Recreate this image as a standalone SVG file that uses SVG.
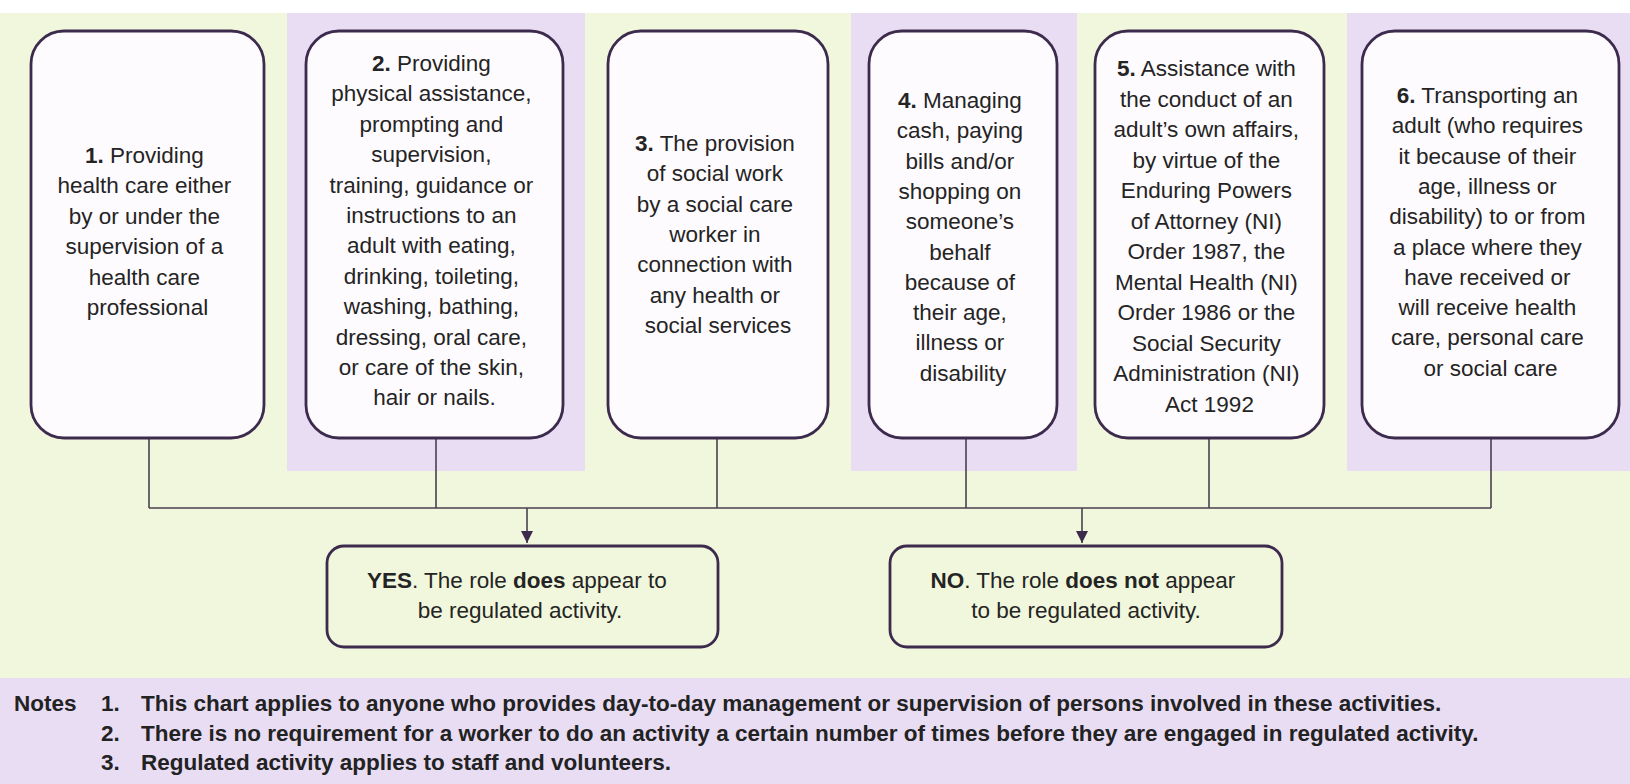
<svg xmlns="http://www.w3.org/2000/svg" width="1630" height="784" viewBox="0 0 1630 784">
<style>
.bg{fill:#f1f7dc}
.band{fill:#e9ddf4}
.node{fill:#fefbfe;stroke:#3d2b4e;stroke-width:2.8}
.res{fill:none;stroke:#3d2b4e;stroke-width:2.8}
.t{font-family:"Liberation Sans",Arial,sans-serif;font-size:22.5px;fill:#242424;text-anchor:middle}
.b{font-weight:bold}
.note{font-family:"Liberation Sans",Arial,sans-serif;font-size:22.5px;font-weight:bold;fill:#222}
.conn{fill:none;stroke:#4a4050;stroke-width:1.6}
</style>
<defs>
<marker id="arr" markerUnits="userSpaceOnUse" markerWidth="12" markerHeight="12" refX="12" refY="6" orient="auto">
<path d="M0,0 L12,6 L0,12 z" fill="#3d2b4e"/>
</marker>
</defs>
<rect x="0" y="0" width="1630" height="784" fill="#ffffff"/>
<rect class="bg" x="0" y="13" width="1630" height="665"/>
<rect class="band" x="287" y="13" width="298" height="458"/>
<rect class="band" x="851" y="13" width="226" height="458"/>
<rect class="band" x="1347" y="13" width="283" height="458"/>
<rect class="band" x="0" y="678" width="1630" height="106"/>

<g id="connectors">
<path class="conn" d="M149,438 V508 M436,438 V508 M717,438 V508 M966,438 V508 M1209,438 V508 M1491,438 V508 M149,508 H1491"/>
<line class="conn" x1="527" y1="508" x2="527" y2="543" marker-end="url(#arr)"/>
<line class="conn" x1="1082" y1="508" x2="1082" y2="543" marker-end="url(#arr)"/>
</g>

<g id="node1">
<rect class="node" x="31" y="31" width="233" height="407" rx="33"/>
<text class="t">
<tspan x="147.5" y="163"><tspan class="b">1.</tspan> Providing</tspan>
<tspan x="147.5" y="193">health care either</tspan>
<tspan x="147.5" y="224">by or under the</tspan>
<tspan x="147.5" y="254">supervision of a</tspan>
<tspan x="147.5" y="285">health care</tspan>
<tspan x="147.5" y="315">professional</tspan>
</text>
</g>

<g id="node2">
<rect class="node" x="306" y="31" width="257" height="407" rx="33"/>
<text class="t">
<tspan x="434.5" y="71"><tspan class="b">2.</tspan> Providing</tspan>
<tspan x="434.5" y="101">physical assistance,</tspan>
<tspan x="434.5" y="132">prompting and</tspan>
<tspan x="434.5" y="162">supervision,</tspan>
<tspan x="434.5" y="193">training, guidance or</tspan>
<tspan x="434.5" y="223">instructions to an</tspan>
<tspan x="434.5" y="253">adult with eating,</tspan>
<tspan x="434.5" y="284">drinking, toileting,</tspan>
<tspan x="434.5" y="314">washing, bathing,</tspan>
<tspan x="434.5" y="345">dressing, oral care,</tspan>
<tspan x="434.5" y="375">or care of the skin,</tspan>
<tspan x="434.5" y="405">hair or nails.</tspan>
</text>
</g>

<g id="node3">
<rect class="node" x="608" y="31" width="220" height="407" rx="33"/>
<text class="t">
<tspan x="718" y="151"><tspan class="b">3.</tspan> The provision</tspan>
<tspan x="718" y="181">of social work</tspan>
<tspan x="718" y="212">by a social care</tspan>
<tspan x="718" y="242">worker in</tspan>
<tspan x="718" y="272">connection with</tspan>
<tspan x="718" y="303">any health or</tspan>
<tspan x="718" y="333">social services</tspan>
</text>
</g>

<g id="node4">
<rect class="node" x="869" y="31" width="188" height="407" rx="33"/>
<text class="t">
<tspan x="963" y="108"><tspan class="b">4.</tspan> Managing</tspan>
<tspan x="963" y="138">cash, paying</tspan>
<tspan x="963" y="169">bills and/or</tspan>
<tspan x="963" y="199">shopping on</tspan>
<tspan x="963" y="229">someone’s</tspan>
<tspan x="963" y="260">behalf</tspan>
<tspan x="963" y="290">because of</tspan>
<tspan x="963" y="320">their age,</tspan>
<tspan x="963" y="350">illness or</tspan>
<tspan x="963" y="381">disability</tspan>
</text>
</g>

<g id="node5">
<rect class="node" x="1095" y="31" width="229" height="407" rx="33"/>
<text class="t">
<tspan x="1209.5" y="76"><tspan class="b">5.</tspan> Assistance with</tspan>
<tspan x="1209.5" y="107">the conduct of an</tspan>
<tspan x="1209.5" y="137">adult’s own affairs,</tspan>
<tspan x="1209.5" y="168">by virtue of the</tspan>
<tspan x="1209.5" y="198">Enduring Powers</tspan>
<tspan x="1209.5" y="229">of Attorney (NI)</tspan>
<tspan x="1209.5" y="259">Order 1987, the</tspan>
<tspan x="1209.5" y="290">Mental Health (NI)</tspan>
<tspan x="1209.5" y="320">Order 1986 or the</tspan>
<tspan x="1209.5" y="351">Social Security</tspan>
<tspan x="1209.5" y="381">Administration (NI)</tspan>
<tspan x="1209.5" y="412">Act 1992</tspan>
</text>
</g>

<g id="node6">
<rect class="node" x="1362" y="31" width="257" height="407" rx="33"/>
<text class="t">
<tspan x="1490.5" y="103"><tspan class="b">6.</tspan> Transporting an</tspan>
<tspan x="1490.5" y="133">adult (who requires</tspan>
<tspan x="1490.5" y="164">it because of their</tspan>
<tspan x="1490.5" y="194">age, illness or</tspan>
<tspan x="1490.5" y="224">disability) to or from</tspan>
<tspan x="1490.5" y="255">a place where they</tspan>
<tspan x="1490.5" y="285">have received or</tspan>
<tspan x="1490.5" y="315">will receive health</tspan>
<tspan x="1490.5" y="345">care, personal care</tspan>
<tspan x="1490.5" y="376">or social care</tspan>
</text>
</g>

<g id="yes">
<rect class="res" x="327" y="546" width="391" height="101" rx="17"/>
<text class="t">
<tspan x="520" y="588"><tspan class="b">YES</tspan>. The role <tspan class="b">does</tspan> appear to</tspan>
<tspan x="520" y="618">be regulated activity.</tspan>
</text>
</g>

<g id="no">
<rect class="res" x="890" y="546" width="392" height="101" rx="17"/>
<text class="t">
<tspan x="1086" y="588"><tspan class="b">NO</tspan>. The role <tspan class="b">does not</tspan> appear</tspan>
<tspan x="1086" y="618">to be regulated activity.</tspan>
</text>
</g>

<g id="notes">
<text class="note" x="14" y="711">Notes</text>
<text class="note" x="101" y="711">1.</text>
<text class="note" x="141" y="711">This chart applies to anyone who provides day-to-day management or supervision of persons involved in these activities.</text>
<text class="note" x="101" y="741">2.</text>
<text class="note" x="141" y="741">There is no requirement for a worker to do an activity a certain number of times before they are engaged in regulated activity.</text>
<text class="note" x="101" y="770">3.</text>
<text class="note" x="141" y="770">Regulated activity applies to staff and volunteers.</text>
</g>
</svg>
